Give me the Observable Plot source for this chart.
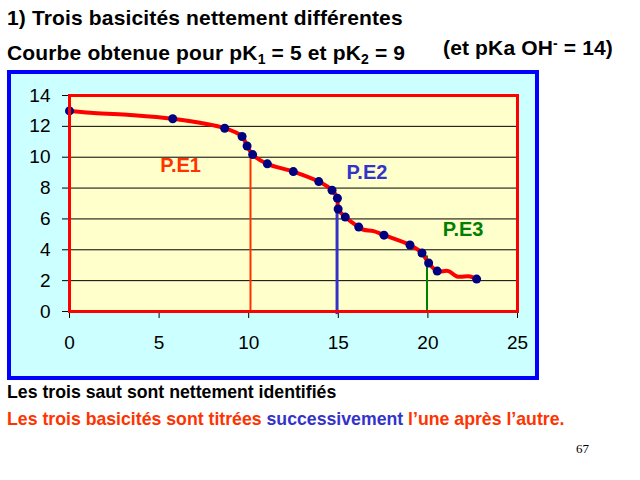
<!DOCTYPE html>
<html>
<head>
<meta charset="utf-8">
<script src="https://cdn.jsdelivr.net/npm/d3@7"></script>
<script src="https://cdn.jsdelivr.net/npm/@observablehq/plot@0.6"></script>
<style>
  html, body { margin: 0; padding: 0; background: #ffffff; }
  body { width: 640px; height: 480px; position: relative; overflow: hidden;
         font-family: "Liberation Sans", Arial, sans-serif; }
  .t { position: absolute; white-space: nowrap; font-weight: bold; line-height: 20px; }
  sub { font-size: 14px; vertical-align: -4px; line-height: 0; }
  sup { font-size: 14px; vertical-align: 7px; line-height: 0; }
  #chart { position: absolute; left: 7px; top: 70px; }
  #chart svg { display: block; }
</style>
</head>
<body>
<div class="t" style="left:7px;top:8px;font-size:21px;letter-spacing:0.15px;color:#000">1) Trois basicités nettement différentes</div>
<div class="t" style="left:7px;top:43px;font-size:21px;letter-spacing:0.15px;color:#000">Courbe obtenue pour pK<sub>1</sub> = 5 et pK<sub>2</sub> = 9</div>
<div class="t" style="left:443px;top:38px;font-size:21px;letter-spacing:0.15px;color:#000">(et pKa OH<sup>-</sup> = 14)</div>
<div id="chart"></div>
<div class="t" style="left:7px;top:382px;font-size:17.7px;color:#000">Les trois saut sont nettement identifiés</div>
<div class="t" style="left:7px;top:409px;font-size:17.7px;color:#ff3300">Les trois basicités sont titrées <span style="color:#3333cc">successivement</span> l’une après l’autre.</div>
<div style="position:absolute;left:576px;top:441px;font-family:'Liberation Serif','Times New Roman',serif;font-size:13px;color:#000">67</div>
<script>
// Measured points (volume, pH)
const markerX = [0, 5.76, 8.66, 9.63, 9.91, 10.22, 11.04, 12.49, 13.91, 14.65, 14.95, 14.99, 15.39, 16.14, 17.55, 19.0, 19.67, 20.04, 20.52, 22.72];
const markerY = [13.0, 12.49, 11.88, 11.34, 10.73, 10.17, 9.57, 9.07, 8.42, 7.86, 7.34, 6.64, 6.12, 5.47, 4.95, 4.31, 3.79, 3.14, 2.62, 2.10];

// Curve trace
const curveX = [0, 1.17, 3.22, 5.76, 8.66, 9.63, 9.91, 10.22, 11.04, 12.49, 13.91, 14.65, 14.95, 14.99, 15.39, 16.14, 16.41, 16.97, 17.55, 19.0, 19.67, 20.04, 20.52, 21.15, 21.62, 22.36, 22.72];
const curveY = [13.0, 12.88, 12.75, 12.49, 11.88, 11.34, 10.73, 10.17, 9.57, 9.07, 8.42, 7.86, 7.34, 6.64, 6.12, 5.47, 5.30, 5.21, 4.95, 4.31, 3.79, 3.14, 2.62, 2.62, 2.27, 2.27, 2.10];

// Equivalence points
const peNames = ["P.E1", "P.E2", "P.E3"];
const peX = [10.1, 14.93, 19.95];
const peTop = [10.2, 6.6, 3.6];
const peLabelX = [6.2, 16.6, 21.96];
const peLabelY = [9.43, 9.03, 5.28];
const peColors = ["#ff3300", "#3333cc", "#008000"];

const xTicks = [0, 5, 10, 15, 20, 25];
const yTicks = [0, 2, 4, 6, 8, 10, 12, 14];
const gridY = [2, 4, 6, 8, 10, 12];

const markers = markerX.map((x, i) => ({x, y: markerY[i]}));
const curve = curveX.map((x, i) => ({x, y: curveY[i]}));
const pe = peNames.map((name, i) => ({name, x: peX[i], top: peTop[i], lx: peLabelX[i], ly: peLabelY[i], color: peColors[i], bottom: i === 1 ? -0.2 : 0, w: i === 1 ? 3 : 2}));

const chart = Plot.plot({
  width: 524,
  height: 302,
  marginLeft: 58,
  marginRight: 18,
  marginTop: 21,
  marginBottom: 65,
  style: {
    background: "#ccffff",
    border: "4px solid #0000ff",
    color: "#000",
    fontFamily: "'Liberation Sans', Arial, sans-serif",
    overflow: "visible"
  },
  x: {domain: [0, 25], label: null},
  y: {domain: [0, 14], label: null},
  marks: [
    Plot.frame({fill: "#ffffcc", stroke: null}),
    Plot.ruleY(gridY, {stroke: "#000", strokeWidth: 1}),
    Plot.axisY(yTicks, {tickSize: 7, tickPadding: 12, fontSize: 19, stroke: "#000", label: null}),
    Plot.axisX(xTicks, {tickSize: 7, tickPadding: 17, fontSize: 19, stroke: "#000", label: null}),
    Plot.ruleX(pe, {x: "x", y1: "bottom", y2: "top", stroke: "color", strokeWidth: "w"}),
    Plot.line(curve, {x: "x", y: "y", curve: "catmull-rom", stroke: "#ff0000", strokeWidth: 4}),
    Plot.dot(markers, {x: "x", y: "y", r: 4.5, fill: "#000080", stroke: null}),
    Plot.text(pe, {x: "lx", y: "ly", text: "name", fill: "color", fontSize: 20, fontWeight: "bold", textAnchor: "middle", lineAnchor: "middle"}),
    Plot.frame({stroke: "#ff0000", strokeWidth: 3})
  ]
});
document.getElementById("chart").appendChild(chart);
</script>
</body>
</html>
